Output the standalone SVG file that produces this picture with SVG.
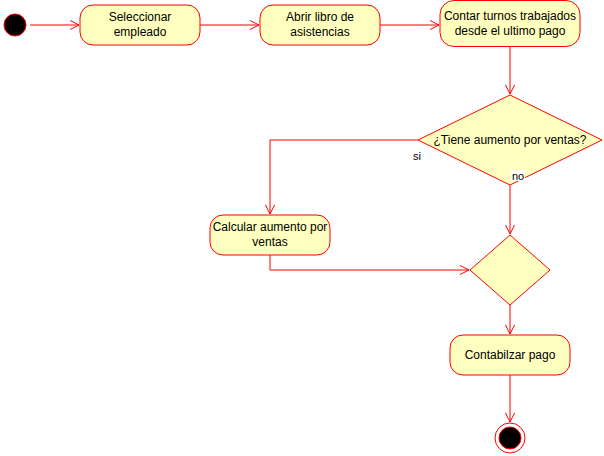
<svg xmlns="http://www.w3.org/2000/svg" width="604" height="456" viewBox="0 0 604 456">
  <style>
    .node { fill: #ffffc0; stroke: #ff0000; stroke-width: 1; }
    .edge { fill: none; stroke: #ff0000; stroke-width: 1; }
    .label { font-family: "Liberation Sans", Arial, sans-serif; font-size: 12px; fill: #000000; text-anchor: middle; }
    .small { font-family: "Liberation Sans", Arial, sans-serif; font-size: 11px; fill: #000000; }
  </style>
  <defs>
    <marker id="open" markerUnits="userSpaceOnUse" markerWidth="12" markerHeight="12" refX="10" refY="5" orient="auto">
      <path d="M1,0.5 L10,5 L1,9.5" fill="none" stroke="#ff0000" stroke-width="1"/>
    </marker>
  </defs>
  <rect width="604" height="456" fill="#ffffff"/>

  <!-- connectors -->
  <g id="edges">
    <path class="edge" d="M30,25 L79,25" marker-end="url(#open)"/>
    <path class="edge" d="M200,25 L259,25" marker-end="url(#open)"/>
    <path class="edge" d="M380,25 L439,25" marker-end="url(#open)"/>
    <path class="edge" d="M510,47 L510,94" marker-end="url(#open)"/>
    <path class="edge" d="M418,140 L270,140 L270,214" marker-end="url(#open)"/>
    <path class="edge" d="M270,255 L270,270 L469,270" marker-end="url(#open)"/>
    <path class="edge" d="M510,185 L510,234" marker-end="url(#open)"/>
    <path class="edge" d="M510,305 L510,334" marker-end="url(#open)"/>
    <path class="edge" d="M510,375 L510,422" marker-end="url(#open)"/>
  </g>

  <g id="start">
    <circle cx="15" cy="25" r="11" fill="#000000" stroke="#ff0000"/>
  </g>

  <g id="seleccionar">
    <rect class="node" x="80" y="5" width="120" height="40" rx="13" ry="13"/>
    <text class="label" x="140" y="21">Seleccionar</text>
    <text class="label" x="140" y="36">empleado</text>
  </g>

  <g id="abrir">
    <rect class="node" x="260" y="5" width="120" height="40" rx="13" ry="13"/>
    <text class="label" x="320" y="21">Abrir libro de</text>
    <text class="label" x="320" y="36">asistencias</text>
  </g>

  <g id="contar">
    <rect class="node" x="440" y="0.5" width="140" height="46" rx="14" ry="14"/>
    <text class="label" x="510" y="20">Contar turnos trabajados</text>
    <text class="label" x="510" y="35">desde el ultimo pago</text>
  </g>

  <g id="decision">
    <path class="node" d="M510,95 L602,140 L510,185 L418,140 Z"/>
    <text class="label" x="510" y="144">¿Tiene aumento por ventas?</text>
  </g>

  <g id="labels">
    <text class="small" x="413" y="160">si</text>
    <rect x="511" y="170" width="14" height="11" fill="#ffffff"/>
    <text class="small" x="512" y="180">no</text>
  </g>

  <g id="calcular">
    <rect class="node" x="210" y="215" width="120" height="40" rx="13" ry="13"/>
    <text class="label" x="270" y="231">Calcular aumento por</text>
    <text class="label" x="270" y="246">ventas</text>
  </g>

  <g id="merge">
    <path class="node" d="M510,235 L550,270 L510,305 L470,270 Z"/>
  </g>

  <g id="contabilizar">
    <rect class="node" x="450" y="335" width="120" height="40" rx="13" ry="13"/>
    <text class="label" x="510" y="359">Contabilzar pago</text>
  </g>

  <g id="end">
    <circle cx="510" cy="438" r="15" fill="#ffffff" stroke="#ff0000"/>
    <circle cx="510" cy="438" r="11" fill="#000000" stroke="#ff0000"/>
  </g>
</svg>
